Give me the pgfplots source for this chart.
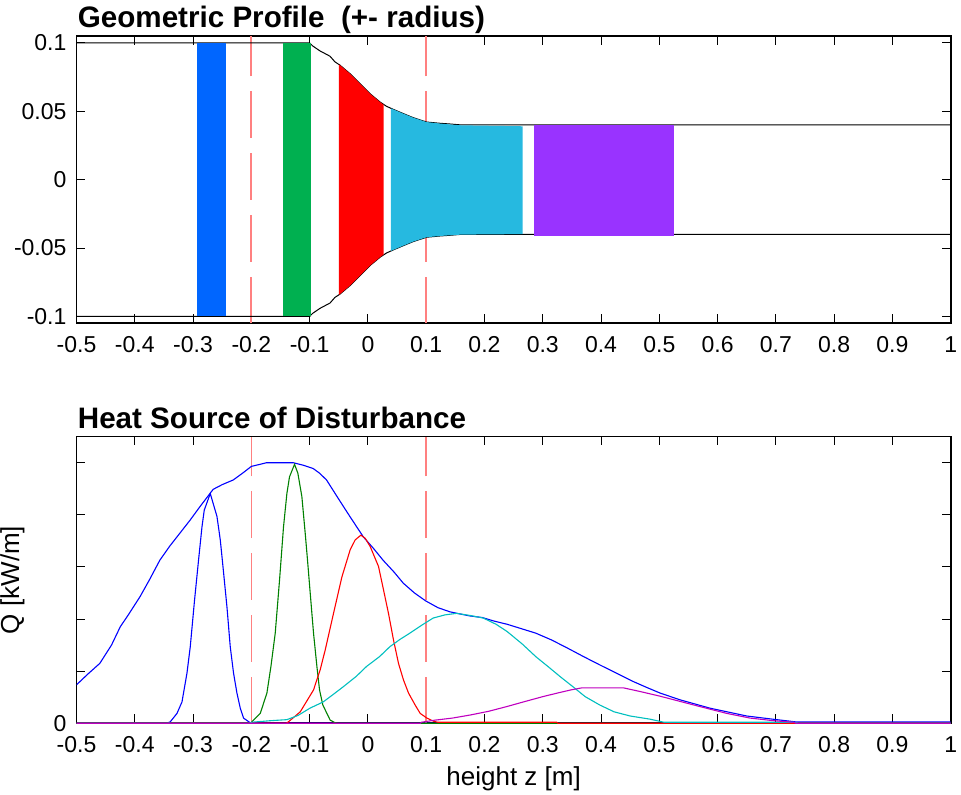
\documentclass[border=0pt]{standalone}
\usepackage{pgfplots}
\pgfplotsset{compat=1.18}
\usepackage{fontspec}
\setmainfont{Liberation Sans}
\definecolor{fblue}{RGB}{0,102,255}
\definecolor{fgreen}{RGB}{0,176,80}
\definecolor{fred}{RGB}{255,0,0}
\definecolor{fcyan}{RGB}{38,185,224}
\definecolor{fpurple}{RGB}{153,51,255}
\definecolor{dashred}{RGB}{255,128,128}
\definecolor{lblue}{rgb}{0,0,1}
\definecolor{lgreen}{rgb}{0,0.5,0}
\definecolor{lred}{rgb}{1,0,0}
\definecolor{lcyan}{rgb}{0,0.75,0.75}
\definecolor{lmag}{rgb}{0.75,0,0.75}
\pgfplotsset{
  myax/.style={
    scale only axis, width=437.1pt,
    xmin=-0.5, xmax=1,
    xtick={-0.5,-0.4,-0.3,-0.2,-0.1,0,0.1,0.2,0.3,0.4,0.5,0.6,0.7,0.8,0.9,1},
    xticklabels={-0.5,-0.4,-0.3,-0.2,-0.1,0,0.1,0.2,0.3,0.4,0.5,0.6,0.7,0.8,0.9,1},
    tick align=inside, xtick pos=both, ytick pos=both,
    major tick length=4.4pt,
    axis line style={line width=0.8pt, black},
    tick style={line width=0.5pt, black},
    ticklabel style={font=\fontsize{11.5}{13}\selectfont},
    xticklabel style={yshift=-3pt},
    yticklabel style={xshift=-1.5pt},
    every axis title/.style={at={(axis description cs:0,1)}, anchor=base west, inner xsep=0pt, xshift=0.5pt, yshift=4pt, font=\bfseries\fontsize{14.8}{17}\selectfont},
    label style={font=\fontsize{13}{15}\selectfont},
  },
  dref/.style={dashred, line width=1pt, dash pattern=on 23.35pt off 7.5pt},
  qline/.style={line width=0.55pt, mark=none},
}
\begin{document}
\begin{tikzpicture}
\useasboundingbox (0,0) rectangle (480.5pt,397.5pt);
% ---------------- top axis ----------------
\begin{axis}[myax, at={(38.25pt,235.85pt)}, anchor=south west, height=143.65pt,
  ymin=-0.105, ymax=0.105,
  ytick={-0.1,-0.05,0,0.05,0.1}, yticklabels={-0.1,-0.05,0,0.05,0.1},
  title={Geometric Profile\ \ (+- radius)}]
\addplot[dref] coordinates {(-0.2,-0.105) (-0.2,0.105)};
\addplot[dref] coordinates {(0.1,-0.105) (0.1,0.105)};
% outline
\addplot[black, line width=0.5pt] coordinates {(-0.5,0.1) (-0.1,0.1) (-0.095,0.0978) (-0.0823,0.0941) (-0.065,0.0902) (-0.0566,0.0861) (-0.048,0.0837) (-0.03,0.0772) (-0.0137,0.0702) (0.0034,0.0629) (0.0206,0.0568) (0.032,0.0536) (0.0434,0.0514) (0.0606,0.0483) (0.0777,0.0453) (0.1007,0.0421) (0.1235,0.0412) (0.14,0.0407) (0.16,0.0400) (1.0,0.0400)};
\addplot[black, line width=0.5pt] coordinates {(-0.5,-0.1) (-0.1,-0.1) (-0.095,-0.0978) (-0.0823,-0.0941) (-0.065,-0.0902) (-0.0566,-0.0861) (-0.048,-0.0837) (-0.03,-0.0772) (-0.0137,-0.0702) (0.0034,-0.0629) (0.0206,-0.0568) (0.032,-0.0536) (0.0434,-0.0514) (0.0606,-0.0483) (0.0777,-0.0453) (0.1007,-0.0421) (0.1235,-0.0412) (0.14,-0.0407) (0.16,-0.0400) (1.0,-0.0400)};
% fills
\addplot[draw=none, fill=fblue] coordinates {(-0.2929,0.1) (-0.2442,0.1) (-0.2442,-0.1) (-0.2929,-0.1)};
\addplot[draw=none, fill=fgreen] coordinates {(-0.1463,0.1) (-0.0983,0.1) (-0.0983,-0.1) (-0.1463,-0.1)};
\addplot[draw=none, fill=fred] coordinates {(-0.0497,0.0842) (-0.048,0.0837) (-0.03,0.0772) (-0.0137,0.0702) (0.0034,0.0629) (0.0206,0.0568) (0.0269,0.0548) (0.0269,-0.0548) (0.0206,-0.0568) (0.0034,-0.0629) (-0.0137,-0.0702) (-0.03,-0.0772) (-0.048,-0.0837) (-0.0497,-0.0842)};
\addplot[draw=none, fill=fcyan] coordinates {(0.0394,0.0521) (0.0434,0.0514) (0.0606,0.0483) (0.0777,0.0453) (0.1007,0.0421) (0.1235,0.0410) (0.14,0.0404) (0.16,0.0397) (0.2653,0.0390) (0.2653,-0.0398) (0.16,-0.0402) (0.14,-0.0407) (0.1235,-0.0412) (0.1007,-0.0421) (0.0777,-0.0453) (0.0606,-0.0483) (0.0434,-0.0514) (0.0394,-0.0521)};
\addplot[draw=none, fill=fpurple] coordinates {(0.2853,0.0400) (0.5249,0.0400) (0.5249,-0.0415) (0.2853,-0.0415)};
\end{axis}
% ---------------- bottom axis ----------------
\begin{axis}[myax, at={(38.25pt,35.85pt)}, anchor=south west, height=143.3pt,
  ymin=0, ymax=5.5,
  ytick={0,1,2,3,4,5}, yticklabels={0,,,,,},
  title={Heat Source of Disturbance},
  xlabel={height z [m]}, ylabel={Q [kW/m]},
  xlabel style={at={(axis description cs:0.5,0)}, anchor=base, yshift=-31pt},
  ylabel style={at={(axis description cs:0,0.5)}, anchor=center, yshift=32pt}]
\addplot[dashred, line width=0.5pt, dash pattern=on 23.35pt off 7.5pt] coordinates {(-0.2,0) (-0.2,5.5)};
\addplot[dref] coordinates {(0.1,0) (0.1,5.5)};
% total (envelope)
\addplot[qline, lblue] coordinates {(-0.5,0.74) (-0.497,0.77) (-0.48,0.95) (-0.46,1.15) (-0.44,1.5) (-0.425,1.85) (-0.41,2.1) (-0.391,2.43) (-0.375,2.75) (-0.357,3.13) (-0.34,3.4) (-0.3225,3.65) (-0.305,3.9) (-0.288,4.16) (-0.2655,4.49) (-0.25,4.58) (-0.231,4.67) (-0.215,4.8) (-0.2,4.93) (-0.185,4.97) (-0.174,5.0) (-0.128,5.0) (-0.11,4.95) (-0.094,4.89) (-0.083,4.8) (-0.071,4.67) (-0.05,4.3) (-0.031,3.97) (-0.008,3.58) (0.01,3.35) (0.026,3.13) (0.045,2.9) (0.0606,2.69) (0.08,2.5) (0.099,2.35) (0.12,2.22) (0.1405,2.14) (0.153,2.11) (0.175,2.06) (0.196,2.03) (0.217,1.96) (0.239,1.90) (0.265,1.81) (0.288,1.73) (0.315,1.6) (0.343,1.44) (0.37,1.28) (0.398,1.12) (0.4556,0.80) (0.478,0.69) (0.5014,0.58) (0.5357,0.45) (0.587,0.29) (0.65,0.14) (0.696,0.077) (0.736,0.025) (1.0,0.025)};
% source 1 (blue)
\addplot[qline, lblue] coordinates {(-0.5,0) (-0.345,0) (-0.339,0.03) (-0.3276,0.19) (-0.319,0.41) (-0.3105,0.96) (-0.3048,1.47) (-0.2974,2.37) (-0.2906,3.13) (-0.2847,3.77) (-0.2808,4.09) (-0.2705,4.41) (-0.259,3.97) (-0.2533,3.52) (-0.2487,3.01) (-0.2419,2.24) (-0.2362,1.47) (-0.2305,0.96) (-0.2247,0.58) (-0.219,0.29) (-0.2134,0.10) (-0.2019,0.01) (-0.198,0) (1.0,0)};
% source 2 (green)
\addplot[qline, lgreen] coordinates {(-0.5,0) (-0.2,0) (-0.199,0.03) (-0.1847,0.19) (-0.1733,0.58) (-0.1664,1.09) (-0.159,1.73) (-0.1516,2.75) (-0.1448,3.77) (-0.139,4.41) (-0.1345,4.73) (-0.1259,4.97) (-0.1202,4.80) (-0.1133,4.35) (-0.1076,3.65) (-0.1036,3.13) (-0.099,2.50) (-0.0933,1.73) (-0.0875,1.09) (-0.083,0.64) (-0.0773,0.35) (-0.0647,0.06) (-0.0561,0.01) (-0.05,0) (1.0,0)};
% source 3 (red)
\addplot[qline, lred] coordinates {(-0.5,0) (-0.14,0) (-0.1362,0.03) (-0.1161,0.22) (-0.0933,0.64) (-0.0818,1.03) (-0.0732,1.41) (-0.059,2.11) (-0.0446,2.81) (-0.0304,3.33) (-0.0218,3.52) (-0.012,3.61) (-0.0046,3.55) (0.004,3.39) (0.0182,3.01) (0.0268,2.56) (0.0353,2.11) (0.0439,1.60) (0.0525,1.15) (0.0611,0.83) (0.0697,0.58) (0.0811,0.35) (0.0897,0.19) (0.1012,0.10) (0.1125,0.04) (0.12,0.02) (0.324,0.02) (0.326,0) (1.0,0)};
% source 4 (cyan)
\addplot[qline, lcyan] coordinates {(-0.5,0) (-0.202,0) (-0.2,0.02) (-0.167,0.05) (-0.139,0.07) (-0.12,0.15) (-0.0995,0.29) (-0.0767,0.41) (-0.06,0.55) (-0.0424,0.70) (-0.02,0.9) (-0.0024,1.09) (0.02,1.28) (0.0377,1.47) (0.055,1.61) (0.072,1.73) (0.092,1.88) (0.112,2.02) (0.132,2.08) (0.152,2.11) (0.175,2.07) (0.1978,2.02) (0.22,1.9) (0.239,1.76) (0.265,1.52) (0.288,1.28) (0.31,1.08) (0.3305,0.89) (0.352,0.70) (0.373,0.51) (0.398,0.35) (0.4225,0.22) (0.45,0.14) (0.4837,0.08) (0.508,0.02) (0.73,0.02) (0.74,0) (1.0,0)};
% source 5 (magenta)
\addplot[qline, lmag] coordinates {(-0.5,0) (0.09,0) (0.0916,0.02) (0.1147,0.06) (0.145,0.10) (0.176,0.16) (0.207,0.23) (0.238,0.32) (0.27,0.42) (0.2995,0.51) (0.325,0.58) (0.348,0.64) (0.367,0.68) (0.4385,0.68) (0.467,0.61) (0.5014,0.52) (0.5357,0.42) (0.57,0.32) (0.6158,0.19) (0.6558,0.10) (0.6958,0.05) (0.73,0.02) (0.735,0) (1.0,0)};
\end{axis}
\end{tikzpicture}
\end{document}
